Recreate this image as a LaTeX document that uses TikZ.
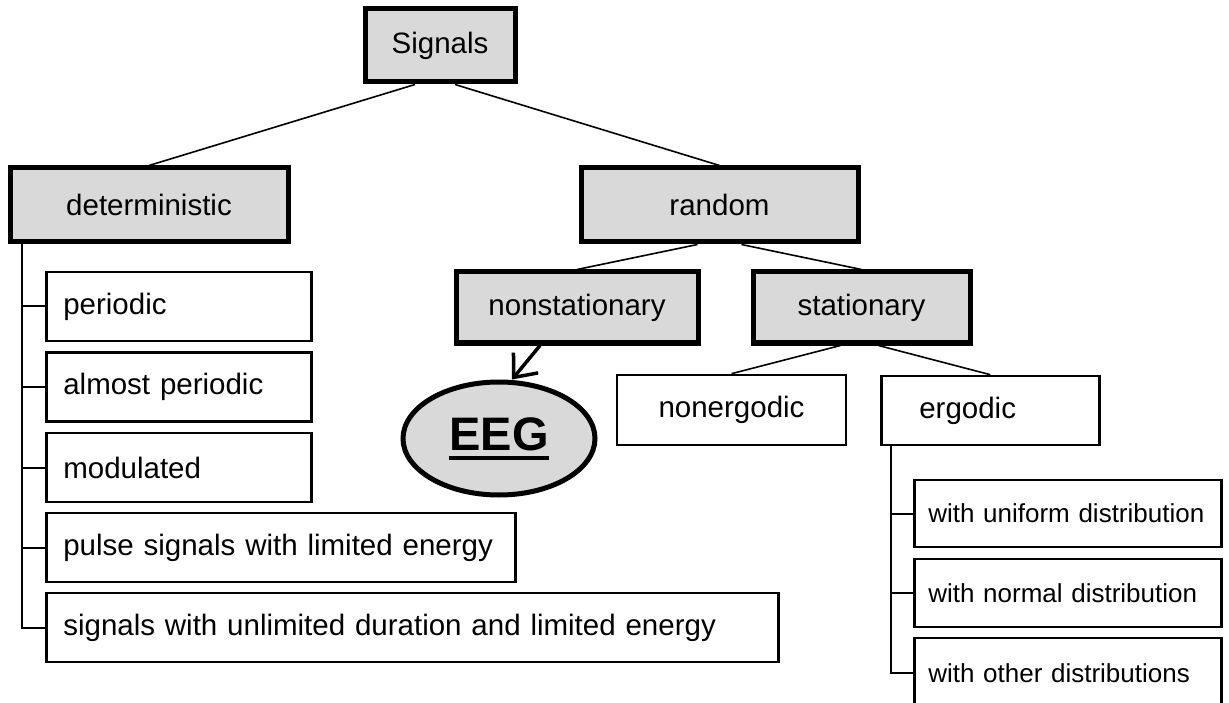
\documentclass[tikz,border=0pt]{standalone}
\usepackage{fontspec}
\setmainfont{Liberation Sans}
\usetikzlibrary{shapes.geometric,arrows.meta}

\definecolor{boxgray}{RGB}{217,217,217}
\newcommand{\bigfont}{\fontsize{29.5}{34}\selectfont}
\newcommand{\smallfont}{\fontsize{26}{30}\selectfont}
\newcommand{\eegmark}[1]{\leavevmode\vtop{\hbox{#1}\kern5pt\hrule height 4pt}}

\tikzset{
  mainbox/.style={draw, line width=5pt, fill=boxgray, font=\bigfont, inner sep=0pt},
  leafbox/.style={draw, line width=2.6pt, anchor=west, align=left, inner xsep=17pt, font=\bigfont},
  distbox/.style={draw, line width=2.6pt, anchor=west, align=left, inner xsep=14pt, font=\smallfont},
  branch/.style={line width=1.6pt},
  spine/.style={line width=2pt},
}

\begin{document}
\begin{tikzpicture}[x=1pt, y=-1pt]
  \useasboundingbox (0,0) rectangle (1229,703);
  \clip (0,0) rectangle (1229,703);

  % Top level
  \node[mainbox, minimum width=150, minimum height=73] (signals) at (440,45.5) {Signals};
  \node[mainbox, minimum width=278, minimum height=74] (determ) at (149,205) {deterministic};
  \node[mainbox, minimum width=277, minimum height=74] (random) at (719.5,205) {random};

  % Random branch
  \node[mainbox, minimum width=242, minimum height=71] (nonstat) at (577,307.5) {nonstationary};
  \node[mainbox, minimum width=217, minimum height=71] (stat) at (861.5,307.5) {stationary};
  \node[draw, line width=2.6pt, minimum width=229, minimum height=70, font=\bigfont] (nonerg) at (731.5,410) {nonergodic};
  \node[leafbox, text width=142, inner xsep=38pt, minimum height=69] (erg) at (880,410.5) {ergodic};
  \node[ellipse, draw, line width=5pt, fill=boxgray, minimum width=192, minimum height=113, inner sep=0pt,
        font=\fontsize{47}{52}\selectfont\bfseries] (eeg) at (499,438.5) {\eegmark{EEG}};

  % Deterministic leaves
  \node[leafbox, text width=231, minimum height=69] (leafa) at (45,306.5) {periodic};
  \node[leafbox, text width=231, minimum height=69] (leafb) at (45,387) {almost periodic};
  \node[leafbox, text width=231, minimum height=69] (leafc) at (45,467.5) {modulated};
  \node[leafbox, text width=435, minimum height=69] (leafd) at (45,547.5) {pulse signals with limited energy};
  \node[leafbox, text width=698, minimum height=69] (leafe) at (45,627.5) {signals with unlimited duration and limited energy};

  % Ergodic leaves
  \node[distbox, text width=279, minimum height=67] (dista) at (913,513.5) {with uniform distribution};
  \node[distbox, text width=279, minimum height=68] (distb) at (913,593) {with normal distribution};
  \node[distbox, text width=279, minimum height=70] (distc) at (913,673) {with other distributions};

  % Connectors
  \draw[branch] ([xshift=-25pt]signals.south) -- (determ.north);
  \draw[branch] ([xshift=15pt]signals.south) -- (random.north);
  \draw[branch] ([xshift=-22pt]random.south) -- (nonstat.north);
  \draw[branch] ([xshift=22pt]random.south) -- (stat.north);
  \draw[branch] ([xshift=-21pt]stat.south) -- (nonerg.north);
  \draw[branch] ([xshift=17pt]stat.south) -- (erg.north);
  \draw[line width=3.5pt, -{Straight Barb[length=19pt,width=32pt]}]
    ([xshift=-37pt]nonstat.south) -- ([xshift=13pt]eeg.north);

  % Tree lines
  \foreach \leaf in {leafa, leafb, leafc, leafd, leafe}
    \draw[spine] ([xshift=14pt]determ.south west) |- (\leaf.west);
  \foreach \leaf in {dista, distb, distc}
    \draw[spine] ([xshift=11pt]erg.south west) |- (\leaf.west);
\end{tikzpicture}
\end{document}
